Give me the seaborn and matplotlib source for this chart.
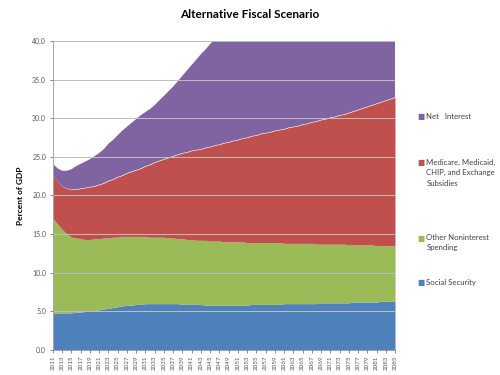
import matplotlib
matplotlib.use("Agg")
import numpy as np
import pandas as pd
import matplotlib.pyplot as plt
import seaborn as sns

# --- DATA (cumulative tops of each stacked band, % of GDP) ---
years = list(range(2011, 2086))

top_social_security = [
    4.7, 4.8, 4.8, 4.8, 4.8, 4.9, 4.9, 5.0, 5.1, 5.1,
    5.2, 5.3, 5.4, 5.5, 5.6, 5.7, 5.8, 5.8, 5.9, 5.9,
    6.0, 6.0, 6.0, 6.0, 6.0, 6.0, 6.0, 6.0, 5.9, 5.9,
    5.9, 5.9, 5.9, 5.8, 5.8, 5.8, 5.8, 5.8, 5.8, 5.8,
    5.8, 5.8, 5.8, 5.9, 5.9, 5.9, 5.9, 5.9, 5.9, 5.9,
    6.0, 6.0, 6.0, 6.0, 6.0, 6.0, 6.0, 6.0, 6.1, 6.1,
    6.1, 6.1, 6.1, 6.1, 6.1, 6.2, 6.2, 6.2, 6.2, 6.2,
    6.2, 6.3, 6.3, 6.3, 6.3,
]
top_other_nonint = [
    17.0, 16.3, 15.6, 15.0, 14.6, 14.5, 14.4, 14.3, 14.3, 14.4,
    14.4, 14.5, 14.5, 14.6, 14.6, 14.7, 14.7, 14.7, 14.7, 14.7,
    14.7, 14.6, 14.6, 14.6, 14.6, 14.5, 14.5, 14.4, 14.4, 14.3,
    14.3, 14.2, 14.2, 14.2, 14.1, 14.1, 14.1, 14.0, 14.0, 14.0,
    14.0, 14.0, 13.9, 13.9, 13.9, 13.9, 13.9, 13.9, 13.9, 13.9,
    13.8, 13.8, 13.8, 13.8, 13.8, 13.8, 13.8, 13.7, 13.7, 13.7,
    13.7, 13.7, 13.7, 13.7, 13.6, 13.6, 13.6, 13.6, 13.6, 13.6,
    13.5, 13.5, 13.5, 13.5, 13.5,
]
top_health = [
    22.6, 21.8, 21.2, 20.9, 20.8, 20.8, 20.9, 21.0, 21.1, 21.2,
    21.4, 21.6, 21.9, 22.1, 22.4, 22.6, 22.9, 23.1, 23.3, 23.5,
    23.8, 24.0, 24.3, 24.5, 24.7, 24.9, 25.1, 25.3, 25.5, 25.6,
    25.8, 25.9, 26.0, 26.2, 26.3, 26.5, 26.6, 26.8, 26.9, 27.1,
    27.2, 27.4, 27.5, 27.7, 27.8, 28.0, 28.1, 28.2, 28.4, 28.5,
    28.6, 28.8, 28.9, 29.0, 29.2, 29.3, 29.5, 29.6, 29.8, 29.9,
    30.1, 30.2, 30.4, 30.5, 30.7, 30.9, 31.1, 31.3, 31.5, 31.7,
    31.9, 32.1, 32.3, 32.5, 32.7,
]
top_net_interest = [
    24.1, 23.5, 23.2, 23.2, 23.4, 23.8, 24.1, 24.4, 24.7, 25.1,
    25.5, 26.0, 26.7, 27.2, 27.8, 28.4, 28.9, 29.4, 29.9, 30.4,
    30.8, 31.2, 31.7, 32.3, 32.9, 33.5, 34.1, 34.8, 35.5, 36.2,
    36.9, 37.6, 38.3, 38.9, 39.6, 40.3, 41.0, 41.8, 42.5, 43.3,
    44.0, 44.8, 45.6, 46.3, 47.1, 47.9, 48.6, 49.4, 50.2, 51.0,
    51.8, 52.6, 53.4, 54.2, 55.0, 55.8, 56.6, 57.5, 58.3, 59.1,
    60.0, 60.8, 61.7, 62.5, 63.4, 64.2, 65.1, 66.0, 66.9, 67.8,
    68.7, 69.6, 70.5, 71.4, 72.3,
]

labels = ["Social Security", "Other Noninterest\nSpending",
          "Medicare, Medicaid,\nCHIP, and Exchange\nSubsidies", "Net   Interest"]
colors = ["#4F81BD", "#9BBB59", "#C0504D", "#8064A2"]

df = pd.DataFrame({
    "year": years,
    "ss": top_social_security,
    "other": top_other_nonint,
    "health": top_health,
    "interest": top_net_interest,
})

sns.set_theme(style="white")
plt.rcParams["font.family"] = ["Lato", "DejaVu Sans"]

fig = plt.figure(figsize=(5, 3.75), dpi=100, facecolor="white")
ax = fig.add_axes([0.106, 0.0667, 0.684, 0.824])

x = np.arange(len(df))
lower = np.zeros(len(df))
for col, c in zip(["ss", "other", "health", "interest"], colors):
    ax.fill_between(x, lower, df[col].values, color=c, linewidth=0, zorder=2)
    lower = df[col].values

ax.set_xlim(0, len(df) - 1)
ax.set_ylim(0, 40)
ax.set_yticks(np.arange(0, 41, 5))
ax.set_yticklabels([f"{v:.1f}" for v in np.arange(0, 41, 5)])
ax.yaxis.grid(True, color="#BFBFBF", linewidth=0.7, zorder=1)
ax.xaxis.grid(False)

ax.set_xticks(x[::2])
ax.set_xticklabels([str(y) for y in df["year"].values[::2]], rotation=90)
ax.tick_params(axis="x", labelsize=4.5, colors="#595959", length=2, width=0.5,
               direction="out", bottom=True, pad=2)
ax.tick_params(axis="y", labelsize=5, colors="#595959", length=2, width=0.5,
               left=True, pad=3)
ax.set_axisbelow(False)

for s in ["top", "right"]:
    ax.spines[s].set_visible(False)
for s in ["left", "bottom"]:
    ax.spines[s].set_color("#A6A6A6")
    ax.spines[s].set_linewidth(0.7)

ax.set_ylabel("Percent of GDP", fontsize=6, fontweight="bold", color="black", labelpad=6)

fig.text(0.5, 0.962, "Alternative Fiscal Scenario", ha="center", va="center",
         fontsize=8.5, fontweight="bold", color="black")

# legend, placed as in the original (top to bottom: reversed stack order)
leg_y = [117, 163, 238, 283]
for lab, c, yy in zip(labels[::-1], colors[::-1], leg_y):
    fig.text(0.835, 1 - yy / 375, "\u25A0", color=c, fontsize=5.5,
             ha="left", va="center", family="DejaVu Sans")
    fig.text(0.853, 1 - (yy - 4) / 375, lab, color="#404040", fontsize=5.6,
             ha="left", va="top", linespacing=1.55)

fig.savefig("out.png", dpi=100, facecolor="white")
